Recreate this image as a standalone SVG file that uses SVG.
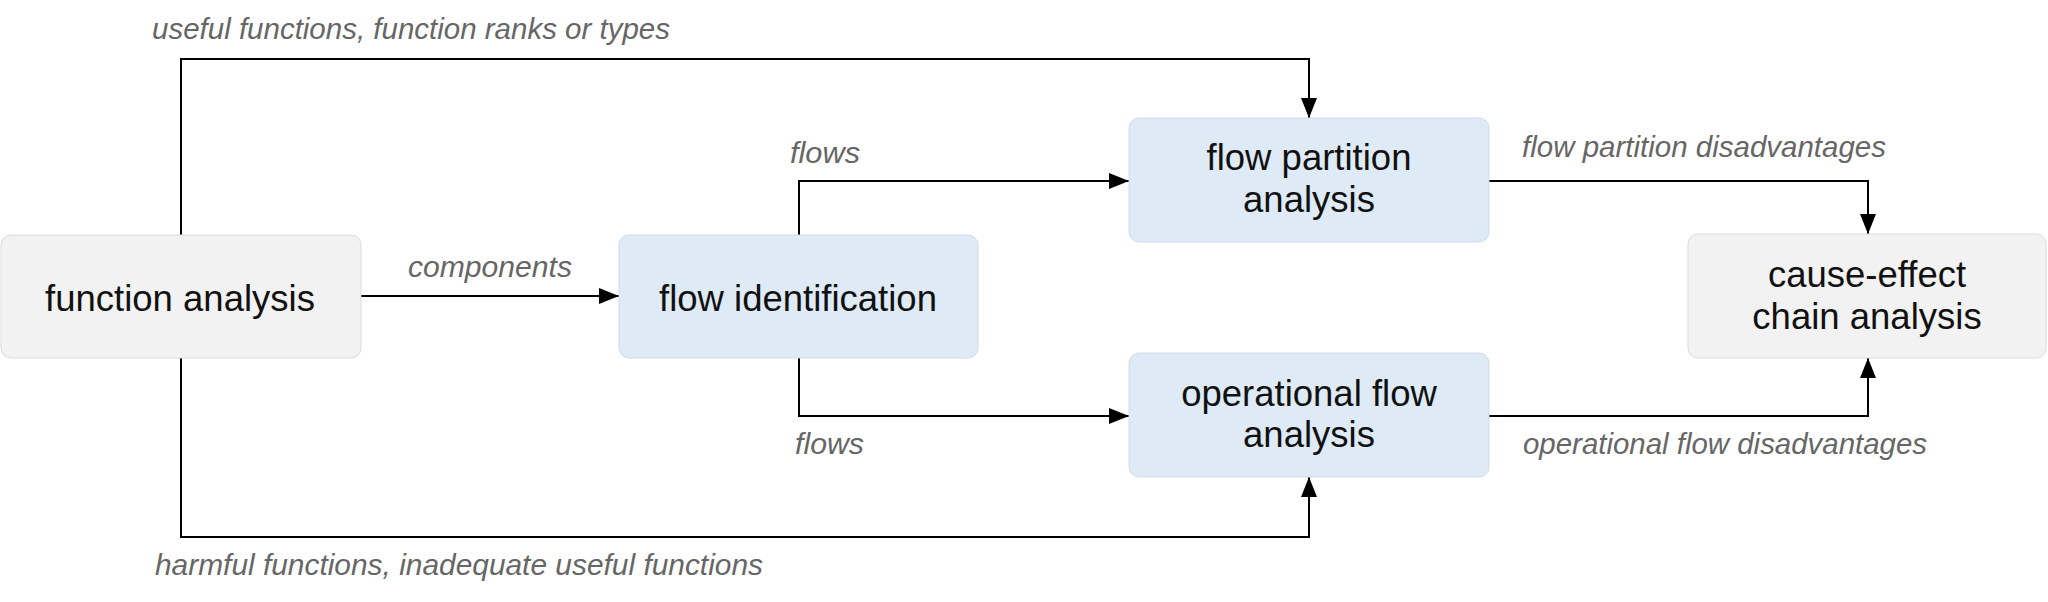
<svg xmlns="http://www.w3.org/2000/svg" width="2048" height="602" viewBox="0 0 2048 602">
<style>
.grey{fill:#F2F2F2;stroke:#DADADA;stroke-width:1}
.blue{fill:#DEEAF6;stroke:#D0DCE8;stroke-width:1}
.nt{font-family:"Liberation Sans",Arial,sans-serif;font-size:36.5px;fill:#111;text-anchor:middle}
.lb{font-family:"Liberation Sans",Arial,sans-serif;font-size:29px;font-style:italic;fill:#666}
.cn{fill:none;stroke:#000;stroke-width:2;marker-end:url(#ah)}
</style>
<defs>
<marker id="ah" markerUnits="userSpaceOnUse" markerWidth="20" markerHeight="16" refX="20" refY="8" orient="auto">
<path d="M0,0 L20,8 L0,16 z" fill="#000"/>
</marker>
</defs>
<rect width="2048" height="602" fill="#fff"/>
<g id="connectors">
<path class="cn" d="M361,296 H619"/>
<path class="cn" d="M181,235 V59 H1309 V118"/>
<path class="cn" d="M181,358 V537 H1309 V477"/>
<path class="cn" d="M799,235 V181 H1129"/>
<path class="cn" d="M799,358 V416 H1129"/>
<path class="cn" d="M1489,181 H1868 V234"/>
<path class="cn" d="M1489,416 H1868 V358"/>
</g>
<g id="labels">
<text class="lb" x="152" y="39" textLength="518" lengthAdjust="spacingAndGlyphs">useful functions, function ranks or types</text>
<text class="lb" x="408" y="277" textLength="164" lengthAdjust="spacingAndGlyphs">components</text>
<text class="lb" x="790" y="163" textLength="70" lengthAdjust="spacingAndGlyphs">flows</text>
<text class="lb" x="795" y="454" textLength="69" lengthAdjust="spacingAndGlyphs">flows</text>
<text class="lb" x="155" y="575" textLength="608" lengthAdjust="spacingAndGlyphs">harmful functions, inadequate useful functions</text>
<text class="lb" x="1522" y="157" textLength="364" lengthAdjust="spacingAndGlyphs">flow partition disadvantages</text>
<text class="lb" x="1523" y="454" textLength="404" lengthAdjust="spacingAndGlyphs">operational flow disadvantages</text>
</g>
<g id="function-analysis">
<rect class="grey" x="1" y="235" width="360" height="123" rx="10"/>
<text class="nt" x="180" y="311">function analysis</text>
</g>
<g id="flow-identification">
<rect class="blue" x="619" y="235" width="359" height="123" rx="10"/>
<text class="nt" x="798" y="311">flow identification</text>
</g>
<g id="flow-partition-analysis">
<rect class="blue" x="1129" y="118" width="360" height="124" rx="10"/>
<text class="nt" x="1309" y="170">flow partition</text>
<text class="nt" x="1309" y="212">analysis</text>
</g>
<g id="operational-flow-analysis">
<rect class="blue" x="1129" y="353" width="360" height="124" rx="10"/>
<text class="nt" x="1309" y="406">operational flow</text>
<text class="nt" x="1309" y="447">analysis</text>
</g>
<g id="cause-effect-chain-analysis">
<rect class="grey" x="1688" y="234" width="358" height="124" rx="10"/>
<text class="nt" x="1867" y="287">cause-effect</text>
<text class="nt" x="1867" y="329">chain analysis</text>
</g>
</svg>
